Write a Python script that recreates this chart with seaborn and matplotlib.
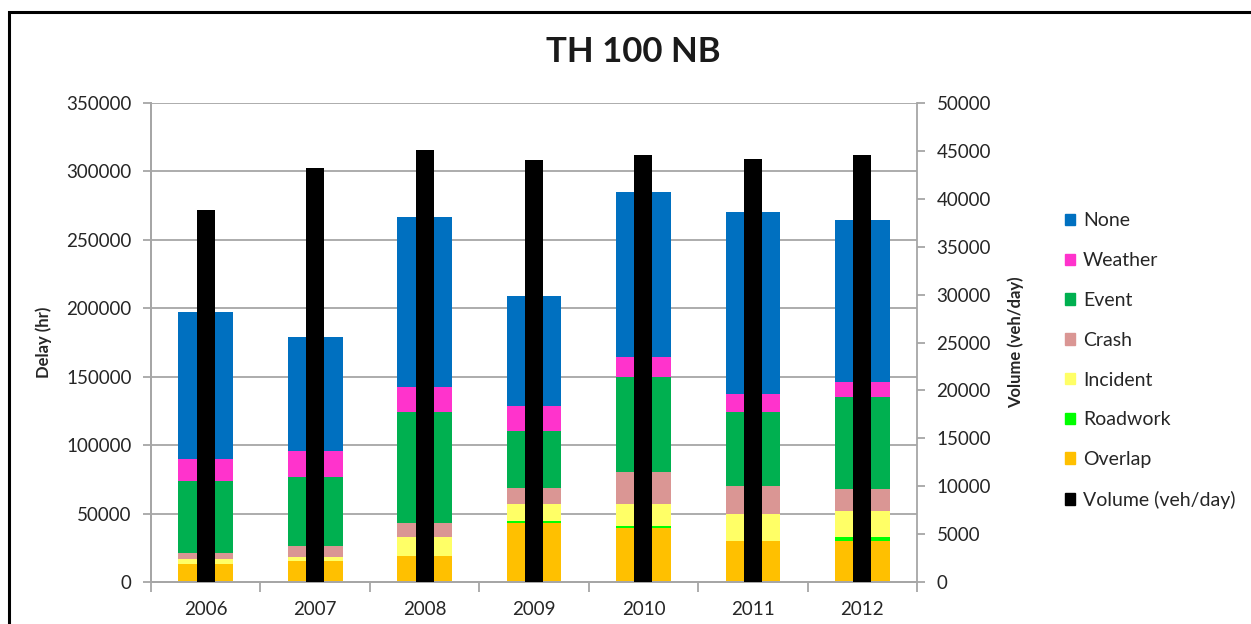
import matplotlib
matplotlib.use("Agg")
import matplotlib.pyplot as plt
import matplotlib.patches as mpatches
import pandas as pd
import seaborn as sns

years = ["2006", "2007", "2008", "2009", "2010", "2011", "2012"]

# delay by cause (hr), bottom to top
overlap = [13000, 15100, 19000, 43300, 39700, 30000, 30000]
roadwork = [0, 0, 0, 1500, 1450, 0, 2700]
incident = [3500, 2950, 13700, 12000, 15650, 19500, 19200]
crash = [4800, 8250, 10650, 12100, 23400, 20700, 15900]
event = [52600, 50200, 80700, 41700, 69700, 53850, 67300]
weather = [15700, 19500, 18350, 18300, 14600, 13350, 10900]
none = [107900, 82900, 124600, 80400, 120800, 133100, 118400]

volume = [38800, 43200, 45100, 44050, 44550, 44200, 44550]

causes = ["Overlap", "Roadwork", "Incident", "Crash", "Event", "Weather", "None"]
colors = {
    "None": "#0070C0",
    "Weather": "#FF33CC",
    "Event": "#00B050",
    "Crash": "#DA9694",
    "Incident": "#FFFF66",
    "Roadwork": "#00FF00",
    "Overlap": "#FFC000",
}

df = pd.DataFrame({"Year": years, "Overlap": overlap, "Roadwork": roadwork,
                   "Incident": incident, "Crash": crash, "Event": event,
                   "Weather": weather, "None": none, "Volume": volume})

sns.set_style("white")
plt.rcParams["font.family"] = ["Lato", "DejaVu Sans"]

fig = plt.figure(figsize=(12.51, 6.24), dpi=100)
ax = fig.add_axes([151 / 1251, 1 - 582 / 624, (917 - 151) / 1251, (582 - 103) / 624])
ax2 = ax.twinx()

# stacked bars: draw cumulative totals, tallest first
cum = df[causes].cumsum(axis=1)
for c in reversed(causes):
    sns.barplot(x=df["Year"], y=cum[c], color=colors[c], width=0.5,
                saturation=1, errorbar=None, ax=ax, zorder=2,
                linewidth=0, edgecolor="none")

sns.barplot(x=df["Year"], y=df["Volume"], color="black", width=0.165,
            saturation=1, errorbar=None, ax=ax2, zorder=3,
            linewidth=0, edgecolor="none")

grey = "#A6A6A6"
ax.set_ylim(0, 350000)
ax.set_yticks(range(0, 350001, 50000))
ax.yaxis.grid(True, color=grey, linewidth=1.3)
ax.set_axisbelow(True)
ax2.set_ylim(0, 50000)
ax2.set_yticks(range(0, 50001, 5000))
ax.set_xlim(-0.5, 6.5)

for a in (ax, ax2):
    for s in a.spines.values():
        s.set_color(grey)
        s.set_linewidth(1.3)
    a.spines["top"].set_visible(False)
    a.set_xlabel("")
ax.spines["right"].set_visible(False)

ax.tick_params(axis="y", which="both", direction="out", length=6, color=grey,
               width=1.3, labelsize=13.5, labelcolor="#262626", pad=8, left=True)
ax2.tick_params(axis="y", direction="out", length=6, color=grey, width=1.3,
                labelsize=13.5, labelcolor="#262626", pad=8, right=True)
ax.set_xticks(range(7))
ax.set_xticklabels(years)
ax.set_xticks([i - 0.5 for i in range(8)], minor=True)
ax.tick_params(axis="x", which="major", length=0, labelsize=13.5,
               labelcolor="#262626", pad=14)
ax.tick_params(axis="x", which="minor", direction="out", length=7,
               color=grey, width=1.3, bottom=True)

ax.set_ylabel("Delay (hr)", fontsize=12, fontweight="bold", labelpad=10)
ax2.set_ylabel("Volume (veh/day)", fontsize=12, fontweight="bold", labelpad=12)

fig.text(0.506, 1 - 52 / 624, "TH 100 NB", fontsize=25, fontweight="bold",
         ha="center", va="center", color="#1a1a1a")

legend_order = ["None", "Weather", "Event", "Crash", "Incident", "Roadwork", "Overlap"]
handles = [mpatches.Patch(color=colors[c], label=c) for c in legend_order]
handles.append(mpatches.Patch(color="black", label="Volume (veh/day)"))
fig.legend(handles=handles, loc="upper left",
           bbox_to_anchor=(1047 / 1251, 1 - 195 / 624), frameon=False,
           fontsize=14, handlelength=0.55, handleheight=0.55, handletextpad=0.4,
           labelspacing=1.17, labelcolor="#262626")

# outer frame of the chart area
fig.patches.append(mpatches.Rectangle((9 / 1251, -0.1), 1.2, 1 - 12 / 624 + 0.1,
                                      transform=fig.transFigure, fill=False,
                                      edgecolor="black", linewidth=2.2))

fig.savefig("out.png", dpi=100)
